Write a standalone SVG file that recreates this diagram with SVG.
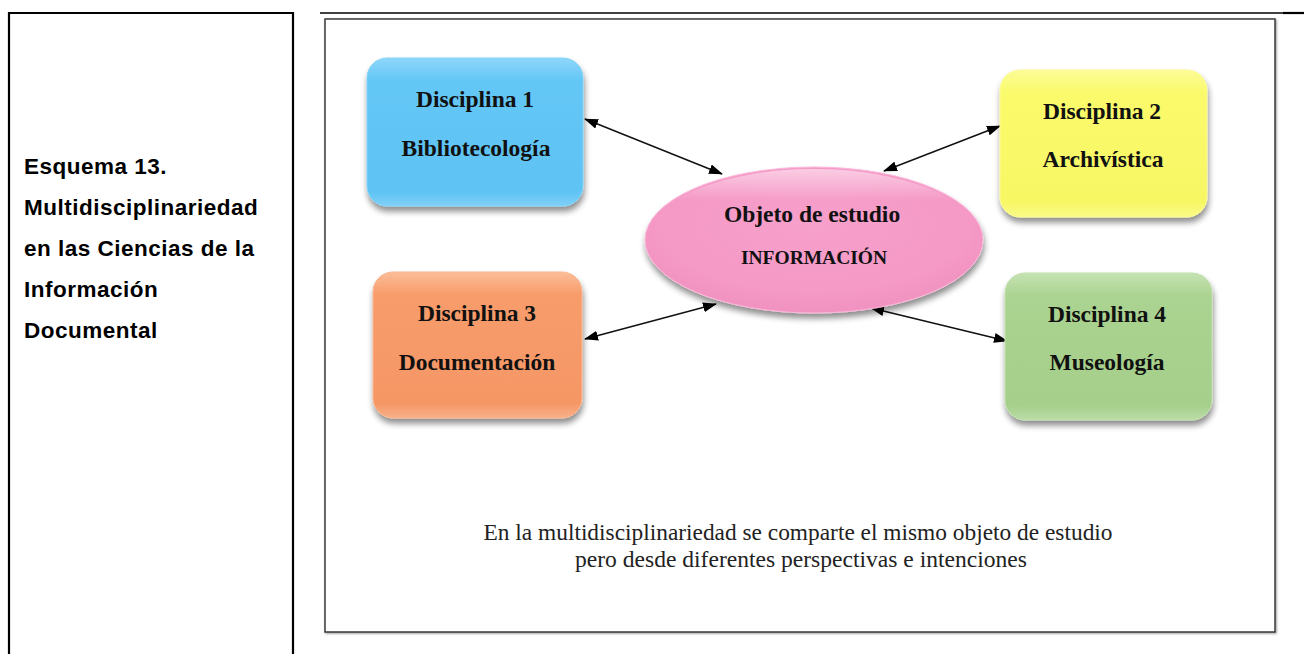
<svg xmlns="http://www.w3.org/2000/svg" width="1304" height="654" viewBox="0 0 1304 654">
<style>
.side{font-family:"Liberation Sans",Arial,sans-serif;font-weight:bold;font-size:22.5px;letter-spacing:0.5px;fill:#000}
.lbl{font-family:"Liberation Serif","Times New Roman",serif;font-weight:bold;font-size:23.5px;fill:#111;text-anchor:middle}
.cap{font-family:"Liberation Serif","Times New Roman",serif;font-size:24px;fill:#222;text-anchor:middle}
.conn{stroke:#111;stroke-width:1.5;fill:none;marker-start:url(#ah);marker-end:url(#ah)}
.box{stroke-width:1}
</style>
<defs>
<marker id="ah" markerUnits="userSpaceOnUse" markerWidth="14" markerHeight="10" refX="13" refY="5" orient="auto-start-reverse">
<path d="M0,0 L14,5 L0,10 z" fill="#000"/>
</marker>
<filter id="sh" x="-10%" y="-10%" width="125%" height="130%">
<feGaussianBlur in="SourceAlpha" stdDeviation="3"/>
<feOffset dx="1" dy="5" result="b"/>
<feComponentTransfer><feFuncA type="linear" slope="0.45"/></feComponentTransfer>
<feMerge><feMergeNode/><feMergeNode in="SourceGraphic"/></feMerge>
</filter>
<filter id="fsh" x="-2%" y="-2%" width="104%" height="104%">
<feGaussianBlur in="SourceAlpha" stdDeviation="1"/>
<feOffset dx="1" dy="1"/>
<feComponentTransfer><feFuncA type="linear" slope="0.4"/></feComponentTransfer>
<feMerge><feMergeNode/><feMergeNode in="SourceGraphic"/></feMerge>
</filter>
<linearGradient id="gBlue" x1="0" y1="0" x2="0" y2="1"><stop offset="0" stop-color="#8ed6fa"/><stop offset="0.15" stop-color="#64c7f6"/><stop offset="0.9" stop-color="#5ec3f4"/><stop offset="1" stop-color="#7fd0f7"/></linearGradient>
<linearGradient id="gYel" x1="0" y1="0" x2="0" y2="1"><stop offset="0" stop-color="#fcfc98"/><stop offset="0.15" stop-color="#fafa6c"/><stop offset="0.9" stop-color="#f7f764"/><stop offset="1" stop-color="#fafa88"/></linearGradient>
<linearGradient id="gOr" x1="0" y1="0" x2="0" y2="1"><stop offset="0" stop-color="#fbbd98"/><stop offset="0.15" stop-color="#f89c6c"/><stop offset="0.9" stop-color="#f59765"/><stop offset="1" stop-color="#f8b08a"/></linearGradient>
<linearGradient id="gGr" x1="0" y1="0" x2="0" y2="1"><stop offset="0" stop-color="#c6e3b3"/><stop offset="0.15" stop-color="#abd391"/><stop offset="0.9" stop-color="#a5cf8a"/><stop offset="1" stop-color="#bcdca7"/></linearGradient>
<radialGradient id="gPink" cx="0.5" cy="0.4" r="0.6"><stop offset="0" stop-color="#f7a0cb"/><stop offset="0.75" stop-color="#f599c6"/><stop offset="1" stop-color="#f192c0"/></radialGradient>
<linearGradient id="gPinkTop" x1="0" y1="0" x2="0" y2="1"><stop offset="0" stop-color="#ffffff" stop-opacity="0.5"/><stop offset="0.22" stop-color="#ffffff" stop-opacity="0"/></linearGradient>
</defs>

<g id="table">
<line x1="8" y1="13" x2="294" y2="13" stroke="#000" stroke-width="2.2"/>
<line x1="320" y1="13" x2="1283" y2="13" stroke="#000" stroke-width="1.3"/>
<line x1="1283" y1="13" x2="1304" y2="13" stroke="#000" stroke-width="2.2"/>
<line x1="9" y1="12" x2="9" y2="654" stroke="#000" stroke-width="2.2"/>
<line x1="293" y1="12" x2="293" y2="654" stroke="#000" stroke-width="2.2"/>
</g>

<g id="caption-left">
<text class="side" x="24" y="174">Esquema 13.</text>
<text class="side" x="24" y="215">Multidisciplinariedad</text>
<text class="side" x="24" y="256">en las Ciencias de la</text>
<text class="side" x="24" y="297">Información</text>
<text class="side" x="24" y="338">Documental</text>
</g>

<g id="frame">
<rect x="325" y="19" width="950" height="613" fill="#fff" stroke="#3a3a3a" stroke-width="1.5" filter="url(#fsh)"/>
</g>

<g id="connectors">
<line class="conn" x1="585" y1="119" x2="722" y2="174"/>
<line class="conn" x1="884" y1="171" x2="1000" y2="126"/>
<line class="conn" x1="585" y1="339" x2="716" y2="304"/>
<line class="conn" x1="871" y1="308" x2="1007" y2="341"/>
</g>

<g id="disciplina1">
<rect class="box" x="367" y="58" width="216" height="148" rx="20" fill="url(#gBlue)" stroke="#86d3f8" filter="url(#sh)"/>
<text class="lbl" x="475" y="107">Disciplina 1</text>
<text class="lbl" x="476" y="156">Bibliotecología</text>
</g>

<g id="disciplina2">
<rect class="box" x="1000" y="70" width="207" height="147" rx="20" fill="url(#gYel)" stroke="#fbfb95" filter="url(#sh)"/>
<text class="lbl" x="1102" y="119">Disciplina 2</text>
<text class="lbl" x="1103" y="167">Archivística</text>
</g>

<g id="disciplina3">
<rect class="box" x="373" y="272" width="209" height="146" rx="20" fill="url(#gOr)" stroke="#fab690" filter="url(#sh)"/>
<text class="lbl" x="477" y="321">Disciplina 3</text>
<text class="lbl" x="477" y="370">Documentación</text>
</g>

<g id="disciplina4">
<rect class="box" x="1005" y="273" width="207" height="147" rx="20" fill="url(#gGr)" stroke="#c2e0ae" filter="url(#sh)"/>
<text class="lbl" x="1107" y="322">Disciplina 4</text>
<text class="lbl" x="1107" y="370">Museología</text>
</g>

<g id="objeto">
<ellipse cx="814" cy="240" rx="169" ry="73" fill="url(#gPink)" stroke="#fbb8da" stroke-width="1" filter="url(#sh)"/>
<ellipse cx="814" cy="240" rx="167" ry="71" fill="url(#gPinkTop)"/>
<text class="lbl" x="812" y="222">Objeto de estudio</text>
<text class="lbl" x="814" y="264" style="font-size:19.5px">INFORMACIÓN</text>
</g>

<g id="nota">
<text class="cap" x="798" y="540" textLength="629" lengthAdjust="spacingAndGlyphs">En la multidisciplinariedad se comparte el mismo objeto de estudio</text>
<text class="cap" x="801" y="567" textLength="452" lengthAdjust="spacingAndGlyphs">pero desde diferentes perspectivas e intenciones</text>
</g>
</svg>
